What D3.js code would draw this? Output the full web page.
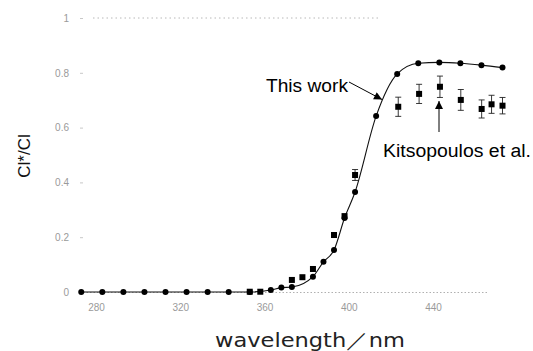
<!DOCTYPE html>
<html>
<head>
<meta charset="utf-8">
<script src="https://cdn.jsdelivr.net/npm/d3@7"></script>
<style>
  body { margin: 0; background: #fff; }
  svg { font-family: "Liberation Sans", Arial, sans-serif; }
  .tick text { fill: #9a9a9a; font-size: 10px; }
  .tick line { stroke: #c8c8c8; }
  .domain { stroke: #b0b0b0; stroke-dasharray: 1.5 2; }
</style>
</head>
<body>
<div id="chart"></div>
<script>
// This work (circles + line)
const workNm = [273, 283, 293, 303, 313, 323, 333, 343, 353, 363, 368, 373, 383, 388, 393, 398, 403, 413, 423, 433, 443, 453, 463, 473];
const workRatio = [0, 0, 0, 0, 0, 0, 0, 0, 0, 0.007, 0.016, 0.018, 0.056, 0.11, 0.153, 0.27, 0.365, 0.642, 0.796, 0.835, 0.838, 0.835, 0.828, 0.819];

// Kitsopoulos et al. (squares + error bars)
const kitsNm = [353, 358, 373, 378, 383, 393, 398, 403, 423.5, 433.4, 443.3, 453.2, 463.1, 467.8, 473];
const kitsRatio = [0.001, 0.001, 0.044, 0.054, 0.084, 0.208, 0.277, 0.427, 0.676, 0.723, 0.749, 0.701, 0.668, 0.685, 0.68];
const kitsErr = [0, 0, 0, 0, 0, 0, 0, 0.02, 0.035, 0.035, 0.039, 0.038, 0.033, 0.033, 0.03];

const xTicks = [280, 320, 360, 400, 440];
const yTicks = [0, 0.2, 0.4, 0.6, 0.8, 1];

const svgWidth = 533;
const svgHeight = 351;

const svg = d3.select("#chart")
    .append("svg")
    .attr("width", svgWidth)
    .attr("height", svgHeight);

const x = d3.scaleLinear().domain([280, 440]).range([96, 433]);
const y = d3.scaleLinear().domain([0, 1]).range([292, 18]);

const kits = kitsNm.map((nm, i) => ({nm: nm, r: kitsRatio[i], e: kitsErr[i]}));

// bottom axis (dotted, faint)
const xAxis = svg.append("g")
    .attr("transform", "translate(0,292)")
    .call(d3.axisBottom(x).tickValues(xTicks).tickFormat(d3.format("d")).tickSize(0).tickPadding(12));
xAxis.select(".domain").attr("d", "M83,0.5H487");

// left axis: ticks only
const yAxis = svg.append("g")
    .attr("transform", "translate(83,0)")
    .call(d3.axisLeft(y).tickValues(yTicks).tickFormat(d => d === 0 || d === 1 ? d3.format("d")(d) : d3.format(".1f")(d)).tickSize(3).tickPadding(11));
yAxis.select(".domain").remove();

// faint top border
svg.append("line")
    .attr("x1", 93).attr("x2", 380)
    .attr("y1", y(1)).attr("y2", y(1))
    .attr("stroke", "#b8b8b8")
    .attr("stroke-dasharray", "1.5 3");

// this work line
const line = d3.line()
    .x((d, i) => x(workNm[i]))
    .y(d => y(d))
    .curve(d3.curveMonotoneX);

svg.append("path")
    .datum(workRatio)
    .attr("d", line)
    .attr("fill", "none")
    .attr("stroke", "#111")
    .attr("stroke-width", 1.1);

svg.selectAll(".work")
    .data(workRatio)
    .enter()
    .append("circle")
    .attr("class", "work")
    .attr("cx", (d, i) => x(workNm[i]))
    .attr("cy", d => y(d))
    .attr("r", 3)
    .attr("fill", "#000");

// error bars
const errG = svg.selectAll(".err")
    .data(kits.filter(d => d.e > 0))
    .enter()
    .append("g")
    .attr("class", "err");

errG.append("line")
    .attr("x1", d => x(d.nm)).attr("x2", d => x(d.nm))
    .attr("y1", d => y(d.r + d.e)).attr("y2", d => y(d.r - d.e))
    .attr("stroke", "#222").attr("stroke-width", 0.9);
[1, -1].forEach(s => {
    errG.append("line")
        .attr("x1", d => x(d.nm) - 3).attr("x2", d => x(d.nm) + 3)
        .attr("y1", d => y(d.r + s * d.e)).attr("y2", d => y(d.r + s * d.e))
        .attr("stroke", "#222").attr("stroke-width", 0.9);
});

svg.selectAll(".kits")
    .data(kits)
    .enter()
    .append("rect")
    .attr("class", "kits")
    .attr("x", d => x(d.nm) - 3)
    .attr("y", d => y(d.r) - 3)
    .attr("width", 6)
    .attr("height", 6)
    .attr("fill", "#000");

// annotations
svg.append("defs").append("marker")
    .attr("id", "head")
    .attr("viewBox", "0 0 10 10")
    .attr("refX", 10).attr("refY", 5)
    .attr("markerWidth", 13).attr("markerHeight", 8)
    .attr("markerUnits", "userSpaceOnUse")
    .attr("orient", "auto")
    .append("path")
    .attr("d", "M0,0L10,5L0,10Z")
    .attr("fill", "#000");

svg.append("text")
    .attr("x", 266).attr("y", 92)
    .attr("font-size", 18)
    .attr("textLength", 82)
    .attr("lengthAdjust", "spacingAndGlyphs")
    .attr("fill", "#000")
    .text("This work");

svg.append("line")
    .attr("x1", 349).attr("y1", 82)
    .attr("x2", 382).attr("y2", 99.5)
    .attr("stroke", "#000").attr("stroke-width", 1)
    .attr("marker-end", "url(#head)");

svg.append("line")
    .attr("x1", 439).attr("y1", 132)
    .attr("x2", 439).attr("y2", 101)
    .attr("stroke", "#000").attr("stroke-width", 1)
    .attr("marker-end", "url(#head)");

svg.append("text")
    .attr("x", 383).attr("y", 157)
    .attr("font-size", 18)
    .attr("textLength", 148)
    .attr("lengthAdjust", "spacingAndGlyphs")
    .attr("fill", "#000")
    .text("Kitsopoulos et al.");

// axis titles
svg.append("text")
    .attr("transform", "translate(30,156) rotate(-90)")
    .attr("text-anchor", "middle")
    .attr("font-size", 17)
    .attr("fill", "#111")
    .text("Cl*/Cl");

svg.append("text")
    .attr("x", 215).attr("y", 347)
    .style("font-family", "'DejaVu Sans', sans-serif")
    .style("font-size", "20px")
    .attr("textLength", 190)
    .attr("lengthAdjust", "spacingAndGlyphs")
    .attr("fill", "#222")
    .text("wavelength／nm");
</script>
</body>
</html>
